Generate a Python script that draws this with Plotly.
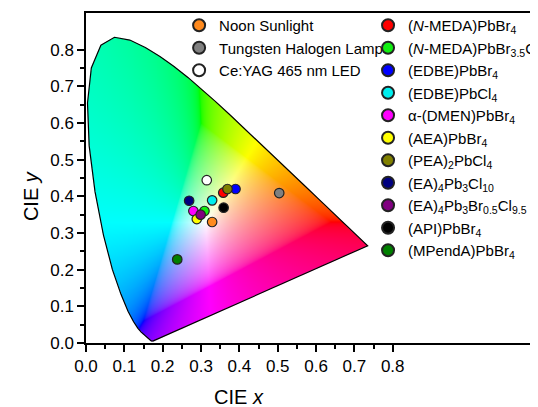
import base64
import struct
import zlib

import numpy as np
import plotly.graph_objects as go

# ---------------- data ----------------
# CIE 1931 2-degree spectral locus (380-700 nm, 5 nm steps)
locus_x = [0.1741, 0.1740, 0.1738, 0.1736, 0.1733, 0.1730, 0.1726, 0.1721, 0.1714, 0.1703,
           0.1689, 0.1669, 0.1644, 0.1611, 0.1566, 0.1510, 0.1440, 0.1355, 0.1241, 0.1096,
           0.0913, 0.0687, 0.0454, 0.0235, 0.0082, 0.0039, 0.0139, 0.0389, 0.0743, 0.1142,
           0.1547, 0.1929, 0.2296, 0.2658, 0.3016, 0.3373, 0.3731, 0.4087, 0.4441, 0.4788,
           0.5125, 0.5448, 0.5752, 0.6029, 0.6270, 0.6482, 0.6658, 0.6801, 0.6915, 0.7006,
           0.7079, 0.7140, 0.7190, 0.7230, 0.7260, 0.7283, 0.7300, 0.7311, 0.7320, 0.7327,
           0.7334, 0.7340, 0.7344, 0.7346, 0.7347]
locus_y = [0.0050, 0.0050, 0.0049, 0.0049, 0.0048, 0.0048, 0.0048, 0.0048, 0.0051, 0.0058,
           0.0069, 0.0086, 0.0109, 0.0138, 0.0177, 0.0227, 0.0297, 0.0399, 0.0578, 0.0868,
           0.1327, 0.2007, 0.2950, 0.4127, 0.5384, 0.6548, 0.7502, 0.8120, 0.8338, 0.8262,
           0.8059, 0.7816, 0.7543, 0.7243, 0.6923, 0.6589, 0.6245, 0.5896, 0.5547, 0.5202,
           0.4866, 0.4544, 0.4242, 0.3965, 0.3725, 0.3514, 0.3340, 0.3197, 0.3083, 0.2993,
           0.2920, 0.2859, 0.2809, 0.2770, 0.2740, 0.2717, 0.2700, 0.2689, 0.2680, 0.2673,
           0.2666, 0.2660, 0.2656, 0.2654, 0.2653]

lamp_names = ["Noon Sunlight", "Tungsten Halogen Lamp", "Ce:YAG 465 nm LED"]
lamp_x = [0.329, 0.504, 0.315]
lamp_y = [0.330, 0.409, 0.444]
lamp_colors = ["#FF8A1E", "#808080", "#FFFFFF"]

mat_names = [
    "(<i>N</i>-MEDA)PbBr<sub>4</sub>",
    "(<i>N</i>-MEDA)PbBr<sub>3.5</sub>Cl<sub>0.5</sub>",
    "(EDBE)PbBr<sub>4</sub>",
    "(EDBE)PbCl<sub>4</sub>",
    "α-(DMEN)PbBr<sub>4</sub>",
    "(AEA)PbBr<sub>4</sub>",
    "(PEA)<sub>2</sub>PbCl<sub>4</sub>",
    "(EA)<sub>4</sub>Pb<sub>3</sub>Cl<sub>10</sub>",
    "(EA)<sub>4</sub>Pb<sub>3</sub>Br<sub>0.5</sub>Cl<sub>9.5</sub>",
    "(API)PbBr<sub>4</sub>",
    "(MPendA)PbBr<sub>4</sub>",
]
mat_x = [0.358, 0.309, 0.390, 0.329, 0.280, 0.289, 0.369, 0.269, 0.299, 0.359, 0.238]
mat_y = [0.410, 0.360, 0.420, 0.389, 0.360, 0.338, 0.420, 0.388, 0.350, 0.369, 0.228]
mat_colors = ["#FF0000", "#11EE11", "#0000FF", "#00EEEE", "#FF00FF", "#FFFF00",
              "#808000", "#000080", "#800080", "#000000", "#008000"]

tick_vals = [0.0, 0.1, 0.2, 0.3, 0.4, 0.5, 0.6, 0.7, 0.8]
minor_vals = [0.05, 0.15, 0.25, 0.35, 0.45, 0.55, 0.65, 0.75]

# ---------------- chromaticity image ----------------
IMG_X0, IMG_X1, IMG_Y0, IMG_Y1 = 0.0, 0.8, 0.0, 0.9
W, H = 640, 720
xs = IMG_X0 + (np.arange(W) + 0.5) * (IMG_X1 - IMG_X0) / W
ys = IMG_Y1 - (np.arange(H) + 0.5) * (IMG_Y1 - IMG_Y0) / H
GX, GY = np.meshgrid(xs, ys)

px = np.array(locus_x)
py = np.array(locus_y)
inside = np.zeros(GX.shape, dtype=bool)
n = len(px)
for i in range(n):
    x1, y1 = px[i], py[i]
    x2, y2 = px[(i + 1) % n], py[(i + 1) % n]
    if y1 == y2:
        continue
    cond = ((y1 > GY) != (y2 > GY))
    xint = x1 + (GY - y1) * (x2 - x1) / (y2 - y1)
    inside ^= cond & (GX < xint)

yy = np.maximum(GY, 1e-4)
X = GX / yy
Y = np.ones_like(GX)
Z = (1 - GX - GY) / yy
R = 3.2406 * X - 1.5372 * Y - 0.4986 * Z
G = -0.9689 * X + 1.8758 * Y + 0.0415 * Z
B = 0.0557 * X - 0.2040 * Y + 1.0570 * Z
rgb = np.stack([R, G, B], axis=-1)
mn = rgb.min(axis=-1, keepdims=True)
rgb = rgb - np.minimum(mn, 0)
rgb = rgb / np.maximum(rgb.max(axis=-1, keepdims=True), 1e-9)
rgb = np.where(rgb <= 0.0031308, 12.92 * rgb, 1.055 * np.power(rgb, 1 / 2.4) - 0.055)
rgba = np.zeros((H, W, 4), dtype=np.uint8)
rgba[..., :3] = np.clip(rgb * 255, 0, 255).astype(np.uint8)
rgba[..., 3] = np.where(inside, 255, 0).astype(np.uint8)


def png_uri(arr):
    h, w, _ = arr.shape
    raw = b"".join(b"\x00" + arr[r].tobytes() for r in range(h))

    def chunk(tag, data):
        c = struct.pack(">I", len(data)) + tag + data
        return c + struct.pack(">I", zlib.crc32(tag + data) & 0xFFFFFFFF)

    png = (b"\x89PNG\r\n\x1a\n"
           + chunk(b"IHDR", struct.pack(">IIBBBBB", w, h, 8, 6, 0, 0, 0))
           + chunk(b"IDAT", zlib.compress(raw, 9))
           + chunk(b"IEND", b""))
    return "data:image/png;base64," + base64.b64encode(png).decode()


# ---------------- figure ----------------
fig = go.Figure()

fig.add_trace(go.Scatter(
    x=locus_x + [locus_x[0]], y=locus_y + [locus_y[0]],
    mode="lines", line=dict(color="black", width=1.2),
    showlegend=False, hoverinfo="skip"))

for nm, x, y, c in zip(lamp_names, lamp_x, lamp_y, lamp_colors):
    fig.add_trace(go.Scatter(
        x=[x], y=[y], mode="markers", name=nm, legend="legend",
        marker=dict(size=[9.5], color=c, opacity=1,
                    line=dict(color="#222222", width=1.2))))

for nm, x, y, c in zip(mat_names, mat_x, mat_y, mat_colors):
    fig.add_trace(go.Scatter(
        x=[x], y=[y], mode="markers", name=nm, legend="legend2",
        marker=dict(size=[9.5], color=c, opacity=1,
                    line=dict(color="#222222", width=1.2))))

FONT = "Liberation Sans, Arial, sans-serif"
axis_common = dict(
    showline=True, linecolor="black", linewidth=1.5,
    ticks="outside", ticklen=7, tickwidth=1.5, tickcolor="black",
    tickvals=tick_vals, tickformat=".1f",
    tickfont=dict(family=FONT, size=17, color="black"),
    showgrid=False, zeroline=False,
    minor=dict(tickvals=minor_vals, ticks="outside", ticklen=4, tickwidth=1.5,
               tickcolor="black", showgrid=False),
)

legend_common = dict(
    bgcolor="rgba(0,0,0,0)", borderwidth=0,
    font=dict(family=FONT, size=15, color="black"),
    itemsizing="constant", xanchor="left", yanchor="top",
    tracegroupgap=0, maxheight=380,
)

# the page body adds an 8 px offset; the figure is sized to fill the rest of the window
fig.update_layout(
    width=530, height=399,
    margin=dict(l=78, r=0, t=5, b=64, autoexpand=False),
    paper_bgcolor="white", plot_bgcolor="white",
    xaxis=dict(range=[0, 1.179], mirror=True, automargin=False, **axis_common),
    yaxis=dict(range=[0, 0.9], mirror=False, automargin=False, **axis_common),
    legend=dict(x=0.206, y=1.012, **legend_common),
    legend2=dict(x=0.624, y=1.012, **legend_common),
    images=[dict(source=png_uri(rgba), xref="x", yref="y",
                 x=IMG_X0, y=IMG_Y1, sizex=IMG_X1 - IMG_X0, sizey=IMG_Y1 - IMG_Y0,
                 sizing="stretch", xanchor="left", yanchor="top", layer="below")],
    annotations=[
        dict(text="CIE <i>x</i>", x=0.4, y=-0.165, xref="x", yref="paper",
             showarrow=False, font=dict(family=FONT, size=20, color="black"),
             xanchor="center", yanchor="middle"),
        dict(text="CIE <i>y</i>", x=-0.12, y=0.4, xref="paper", yref="y",
             showarrow=False, textangle=-90,
             font=dict(family=FONT, size=20, color="black"),
             xanchor="center", yanchor="middle"),
    ],
    showlegend=True,
)

fig.write_html("out.html")
